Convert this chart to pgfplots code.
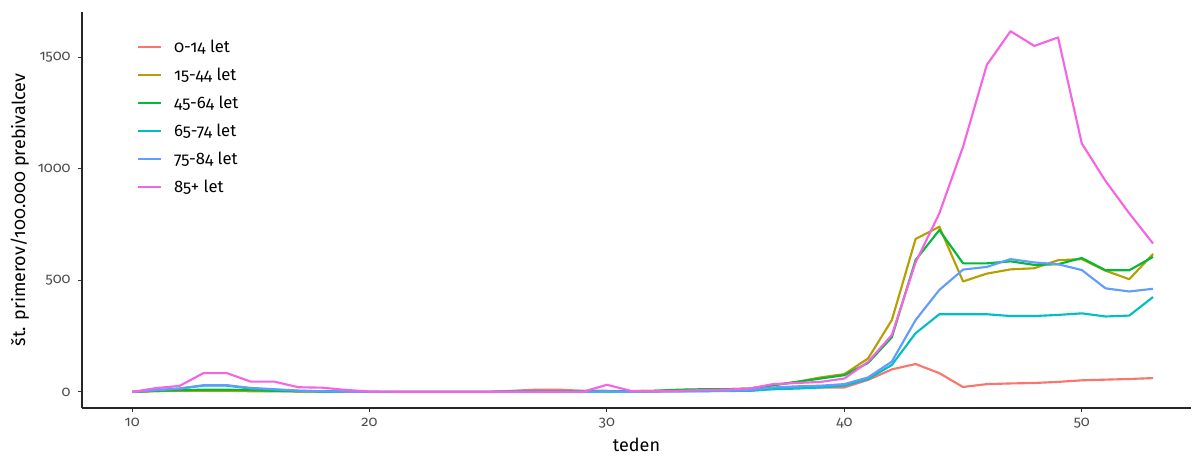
\documentclass[border=0pt]{standalone}
\usepackage{pgfplots}
\pgfplotsset{compat=1.18}
\usepackage{fontspec}
\setmainfont[Numbers=OldStyle]{Fira Sans}
\definecolor{cA}{HTML}{F8766D}
\definecolor{cB}{HTML}{B79F00}
\definecolor{cC}{HTML}{00BA38}
\definecolor{cD}{HTML}{00BFC4}
\definecolor{cE}{HTML}{619CFF}
\definecolor{cF}{HTML}{F564E3}
\definecolor{tickgray}{HTML}{4D4D4D}
\begin{document}
\begin{tikzpicture}
\begin{axis}[
  at={(0,0)}, anchor=south west,
  scale only axis,
  width=831.75pt, height=297pt,
  xmin=7.89, xmax=54.6,
  ymin=-72, ymax=1702,
  axis lines*=left,
  axis line style={line width=0.8pt, color=black!85, -},
  xtick={10,20,30,40,50},
  ytick={0,500,1000,1500},
  tick align=outside,
  major tick length=3pt,
  tick style={color=black!80, line width=0.7pt},
  /pgf/number format/assume math mode=true,
  /pgf/number format/1000 sep={},
  ticklabel style={font=\fontsize{11}{14}\selectfont, color=tickgray},
  xticklabel style={yshift=-1pt},
  yticklabel style={xshift=-2pt},
  xlabel={teden},
  ylabel={št. primerov/100.000 prebivalcev},
  xlabel style={at={(axis description cs:0.5,0)}, anchor=center, yshift=-27.5pt, font=\fontsize{13.5}{16}\selectfont},
  ylabel style={at={(axis description cs:-0.056,0.5)}, anchor=center, rotate=0, font=\fontsize{13.5}{16}\selectfont},
  legend style={at={(axis description cs:0.0496,0.935)}, anchor=north west, draw=none, fill=none,
    font=\fontsize{12.5}{15}\selectfont, inner sep=0pt, row sep=7pt, column sep=8pt,
    nodes={inner sep=1pt, text height=9.5pt, text depth=2.5pt}},
  legend cell align=left,
  legend image code/.code={\draw[#1] (0pt,0pt) -- (17pt,0pt);},
  every axis plot/.append style={line width=1.6pt, line join=round},
  clip=false,
]
\addplot[cA] coordinates {(10,0)(11,5)(12,8)(13,8)(14,8)(15,5)(16,4)(17,3)(18,2)(19,1)(20,0)(21,0)(22,0)(23,0)(24,0)(25,0)(26,5)(27,10)(28,10)(29,5)(30,5)(31,3)(32,3)(33,3)(34,5)(35,5)(36,5)(37,15)(38,20)(39,20)(40,20)(41,54)(42,101)(43,125)(44,84)(45,22)(46,35)(47,38)(48,40)(49,45)(50,52)(51,55)(52,58)(53,62)};
\addlegendentry{0-14 let}
\addplot[cB] coordinates {(10,0)(11,3)(12,5)(13,5)(14,5)(15,3)(16,3)(17,2)(18,1)(19,0)(20,0)(21,0)(22,0)(23,0)(24,0)(25,0)(26,2)(27,3)(28,3)(29,3)(30,3)(31,3)(32,5)(33,8)(34,10)(35,12)(36,15)(37,30)(38,45)(39,65)(40,80)(41,150)(42,322)(43,685)(44,740)(45,495)(46,530)(47,549)(48,554)(49,590)(50,595)(51,543)(52,505)(53,618)};
\addlegendentry{15-44 let}
\addplot[cC] coordinates {(10,0)(11,5)(12,8)(13,10)(14,10)(15,8)(16,5)(17,3)(18,2)(19,1)(20,0)(21,0)(22,0)(23,0)(24,0)(25,0)(26,3)(27,3)(28,3)(29,3)(30,3)(31,3)(32,5)(33,10)(34,12)(35,12)(36,15)(37,30)(38,45)(39,60)(40,75)(41,130)(42,245)(43,591)(44,725)(45,576)(46,576)(47,585)(48,569)(49,572)(50,600)(51,545)(52,545)(53,605)};
\addlegendentry{45-64 let}
\addplot[cD] coordinates {(10,0)(11,8)(12,15)(13,28)(14,28)(15,15)(16,10)(17,5)(18,3)(19,1)(20,0)(21,0)(22,0)(23,0)(24,0)(25,0)(26,1)(27,1)(28,1)(29,1)(30,2)(31,1)(32,2)(33,3)(34,3)(35,4)(36,5)(37,12)(38,15)(39,20)(40,28)(41,58)(42,121)(43,263)(44,348)(45,348)(46,348)(47,340)(48,340)(49,345)(50,352)(51,338)(52,342)(53,425)};
\addlegendentry{65-74 let}
\addplot[cE] coordinates {(10,0)(11,8)(12,15)(13,30)(14,30)(15,18)(16,12)(17,6)(18,3)(19,1)(20,0)(21,0)(22,0)(23,0)(24,0)(25,0)(26,1)(27,1)(28,1)(29,1)(30,3)(31,1)(32,2)(33,3)(34,4)(35,5)(36,8)(37,20)(38,25)(39,28)(40,35)(41,65)(42,136)(43,322)(44,457)(45,548)(46,560)(47,595)(48,580)(49,572)(50,546)(51,464)(52,450)(53,462)};
\addlegendentry{75-84 let}
\addplot[cF] coordinates {(10,0)(11,17)(12,27)(13,84)(14,84)(15,46)(16,46)(17,21)(18,19)(19,9)(20,2)(21,1)(22,1)(23,1)(24,1)(25,1)(26,1)(27,1)(28,1)(29,1)(30,32)(31,5)(32,3)(33,5)(34,8)(35,10)(36,15)(37,35)(38,40)(39,45)(40,60)(41,135)(42,255)(43,580)(44,800)(45,1099)(46,1465)(47,1616)(48,1550)(49,1588)(50,1113)(51,945)(52,800)(53,665)};
\addlegendentry{85+ let}
\end{axis}
\path[use as bounding box] (-61.5pt,-36pt) rectangle (833.25pt,306pt);
\end{tikzpicture}
\end{document}
